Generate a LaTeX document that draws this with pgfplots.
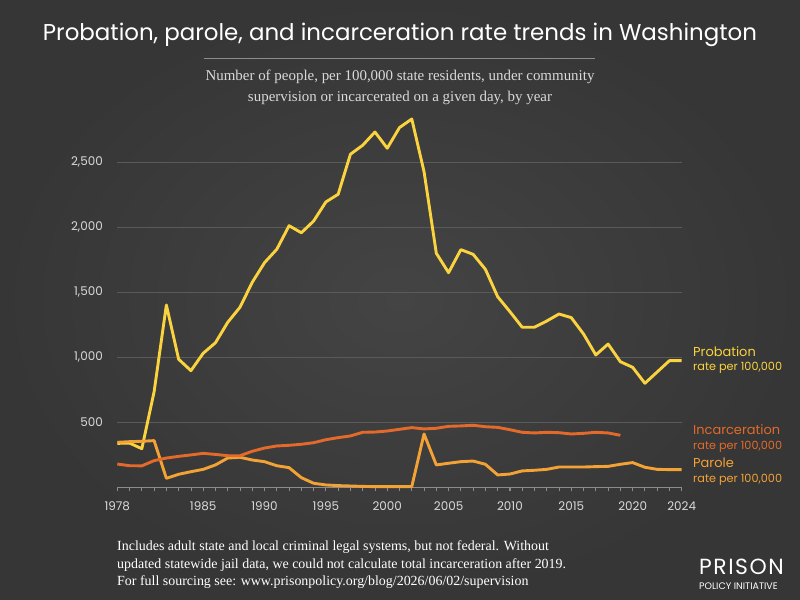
\documentclass[border=0pt]{standalone}
\usepackage{pgfplots}
\pgfplotsset{compat=1.18}
\usepackage{fontspec}
\setmainfont{Liberation Serif}
\newfontfamily\pop{Poppins}
\definecolor{bgc}{HTML}{444444}
\definecolor{bgo}{HTML}{363636}
\definecolor{probc}{HTML}{FAD33E}
\definecolor{incc}{HTML}{E36A2A}
\definecolor{parc}{HTML}{F3A236}
\definecolor{gridc}{HTML}{5A5A5A}
\definecolor{basec}{HTML}{8C8C8C}
\definecolor{labc}{HTML}{DADADA}

\begin{document}
\begin{tikzpicture}
\begin{scope}[x=1bp,y=1bp]
% backdrop
\shade[inner color=bgc, outer color=bgo] (0,0) rectangle (800,600);
\path[use as bounding box] (0,0) rectangle (800,600);

% heading
\node[anchor=base, text=white, font=\pop\fontsize{23}{27}\selectfont] at (400,559)
  {Probation, parole, and incarceration rate trends in Washington};
\draw[color=basec, line width=0.8bp] (204,542) -- (595,542);
\node[anchor=base, text=labc, font=\fontsize{15}{20}\selectfont] at (400,519)
  {Number of people, per 100,000 state residents, under community};
\node[anchor=base, text=labc, font=\fontsize{15}{20}\selectfont] at (400,498)
  {supervision or incarcerated on a given day, by year};
\end{scope}

\begin{axis}[
  at={(117.3bp,112.7bp)}, anchor=south west,
  scale only axis, width=564.4bp, height=377bp,
  xmin=1978, xmax=2024, ymin=0, ymax=2900,
  clip=false,
  axis x line*=bottom, axis y line*=left,
  x axis line style={-, color=basec, line width=0.8bp},
  y axis line style={draw=none},
  xtick={1978,1985,1990,1995,2000,2005,2010,2015,2020,2024},
  minor xtick={1978,...,2024},
  tick align=outside,
  major tick length=4bp, minor tick length=4bp,
  xtick style={color=basec, line width=0.8bp},
  minor x tick style={color=basec, line width=0.8bp},
  ytick={500,1000,1500,2000,2500},
  ytick style={draw=none},
  ymajorgrids,
  grid style={color=gridc, line width=0.8bp},
  /pgf/number format/assume math mode=true,
  ticklabel style={font=\pop\fontsize{12}{14}\selectfont, text=labc},
  xticklabel style={/pgf/number format/1000 sep={}, yshift=-7bp},
  yticklabel style={/pgf/number format/1000 sep={,}, xshift=-7bp},
  every axis plot/.append style={line width=2.9bp, line join=round, no markers},
]
% probation rate
\addplot[color=probc] coordinates {
(1978,338) (1979,340) (1980,297) (1981,735) (1982,1402) (1983,985) (1984,897)
(1985,1031) (1986,1112) (1987,1269) (1988,1385) (1989,1577) (1990,1728)
(1991,1831) (1992,2012) (1993,1958) (1994,2048) (1995,2195) (1996,2254)
(1997,2562) (1998,2631) (1999,2733) (2000,2608) (2001,2767) (2002,2833)
(2003,2428) (2004,1800) (2005,1651) (2006,1828) (2007,1792) (2008,1677)
(2009,1466) (2010,1351) (2011,1231) (2012,1231) (2013,1279) (2014,1333)
(2015,1305) (2016,1179) (2017,1018) (2018,1102) (2019,966) (2020,923)
(2021,800) (2022,887) (2023,974) (2024,974)
};
% parole rate
\addplot[color=parc] coordinates {
(1978,346) (1979,351) (1980,354) (1981,359) (1982,69) (1983,100) (1984,120)
(1985,138) (1986,172) (1987,225) (1988,231) (1989,210) (1990,197) (1991,166)
(1992,151) (1993,74) (1994,31) (1995,18) (1996,13) (1997,10) (1998,7)
(1999,5) (2000,5) (2001,5) (2002,5) (2003,410) (2004,172) (2005,185)
(2006,197) (2007,202) (2008,177) (2009,95) (2010,102) (2011,126) (2012,131)
(2013,138) (2014,156) (2015,156) (2016,156) (2017,159) (2018,161) (2019,177)
(2020,190) (2021,154) (2022,138) (2023,136) (2024,136)
};
% incarceration rate
\addplot[color=incc] coordinates {
(1978,179) (1979,166) (1980,165) (1981,205) (1982,225) (1983,238) (1984,249)
(1985,261) (1986,253) (1987,243) (1988,243) (1989,277) (1990,302) (1991,318)
(1992,323) (1993,331) (1994,343) (1995,366) (1996,382) (1997,395) (1998,423)
(1999,425) (2000,433) (2001,446) (2002,459) (2003,449) (2004,454) (2005,469)
(2006,472) (2007,477) (2008,466) (2009,461) (2010,443) (2011,423) (2012,418)
(2013,423) (2014,420) (2015,410) (2016,415) (2017,423) (2018,418) (2019,400)
};
\end{axis}

\begin{scope}[x=1bp,y=1bp]
% series labels
\node[anchor=base west, inner sep=0, text=probc, font=\pop\fontsize{13}{15}\selectfont] at (693,243) {Probation};
\node[anchor=base west, inner sep=0, text=probc, font=\pop\fontsize{11.3}{13}\selectfont] at (693,229) {rate per 100,000};
\node[anchor=base west, inner sep=0, text=incc, font=\pop\fontsize{13}{15}\selectfont] at (693,165) {Incarceration};
\node[anchor=base west, inner sep=0, text=incc, font=\pop\fontsize{11.3}{13}\selectfont] at (693,150) {rate per 100,000};
\node[anchor=base west, inner sep=0, text=parc, font=\pop\fontsize{13}{15}\selectfont] at (693,132) {Parole};
\node[anchor=base west, inner sep=0, text=parc, font=\pop\fontsize{11.3}{13}\selectfont] at (693,117) {rate per 100,000};

% notes
\node[anchor=base west, inner sep=0, text=white, font=\fontsize{14}{17}\selectfont] at (117,49)
  {Includes adult state and local criminal legal systems, but not federal. Without};
\node[anchor=base west, inner sep=0, text=white, font=\fontsize{14}{17}\selectfont] at (117,31)
  {updated statewide jail data, we could not calculate total incarceration after 2019.};
\node[anchor=base west, inner sep=0, text=white, font=\fontsize{14}{17}\selectfont] at (117,14)
  {For full sourcing see: www.prisonpolicy.org/blog/2026/06/02/supervision};

% logo
\node[anchor=base west, inner sep=0, text=white, font=\pop\fontsize{22}{24}\selectfont\addfontfeatures{LetterSpace=7}] at (699,25) {PRISON};
\node[anchor=base west, inner sep=0, text=white, font=\pop\fontsize{9.5}{11}\selectfont] at (699,10) {POLICY INITIATIVE};
\end{scope}
\end{tikzpicture}
\end{document}
